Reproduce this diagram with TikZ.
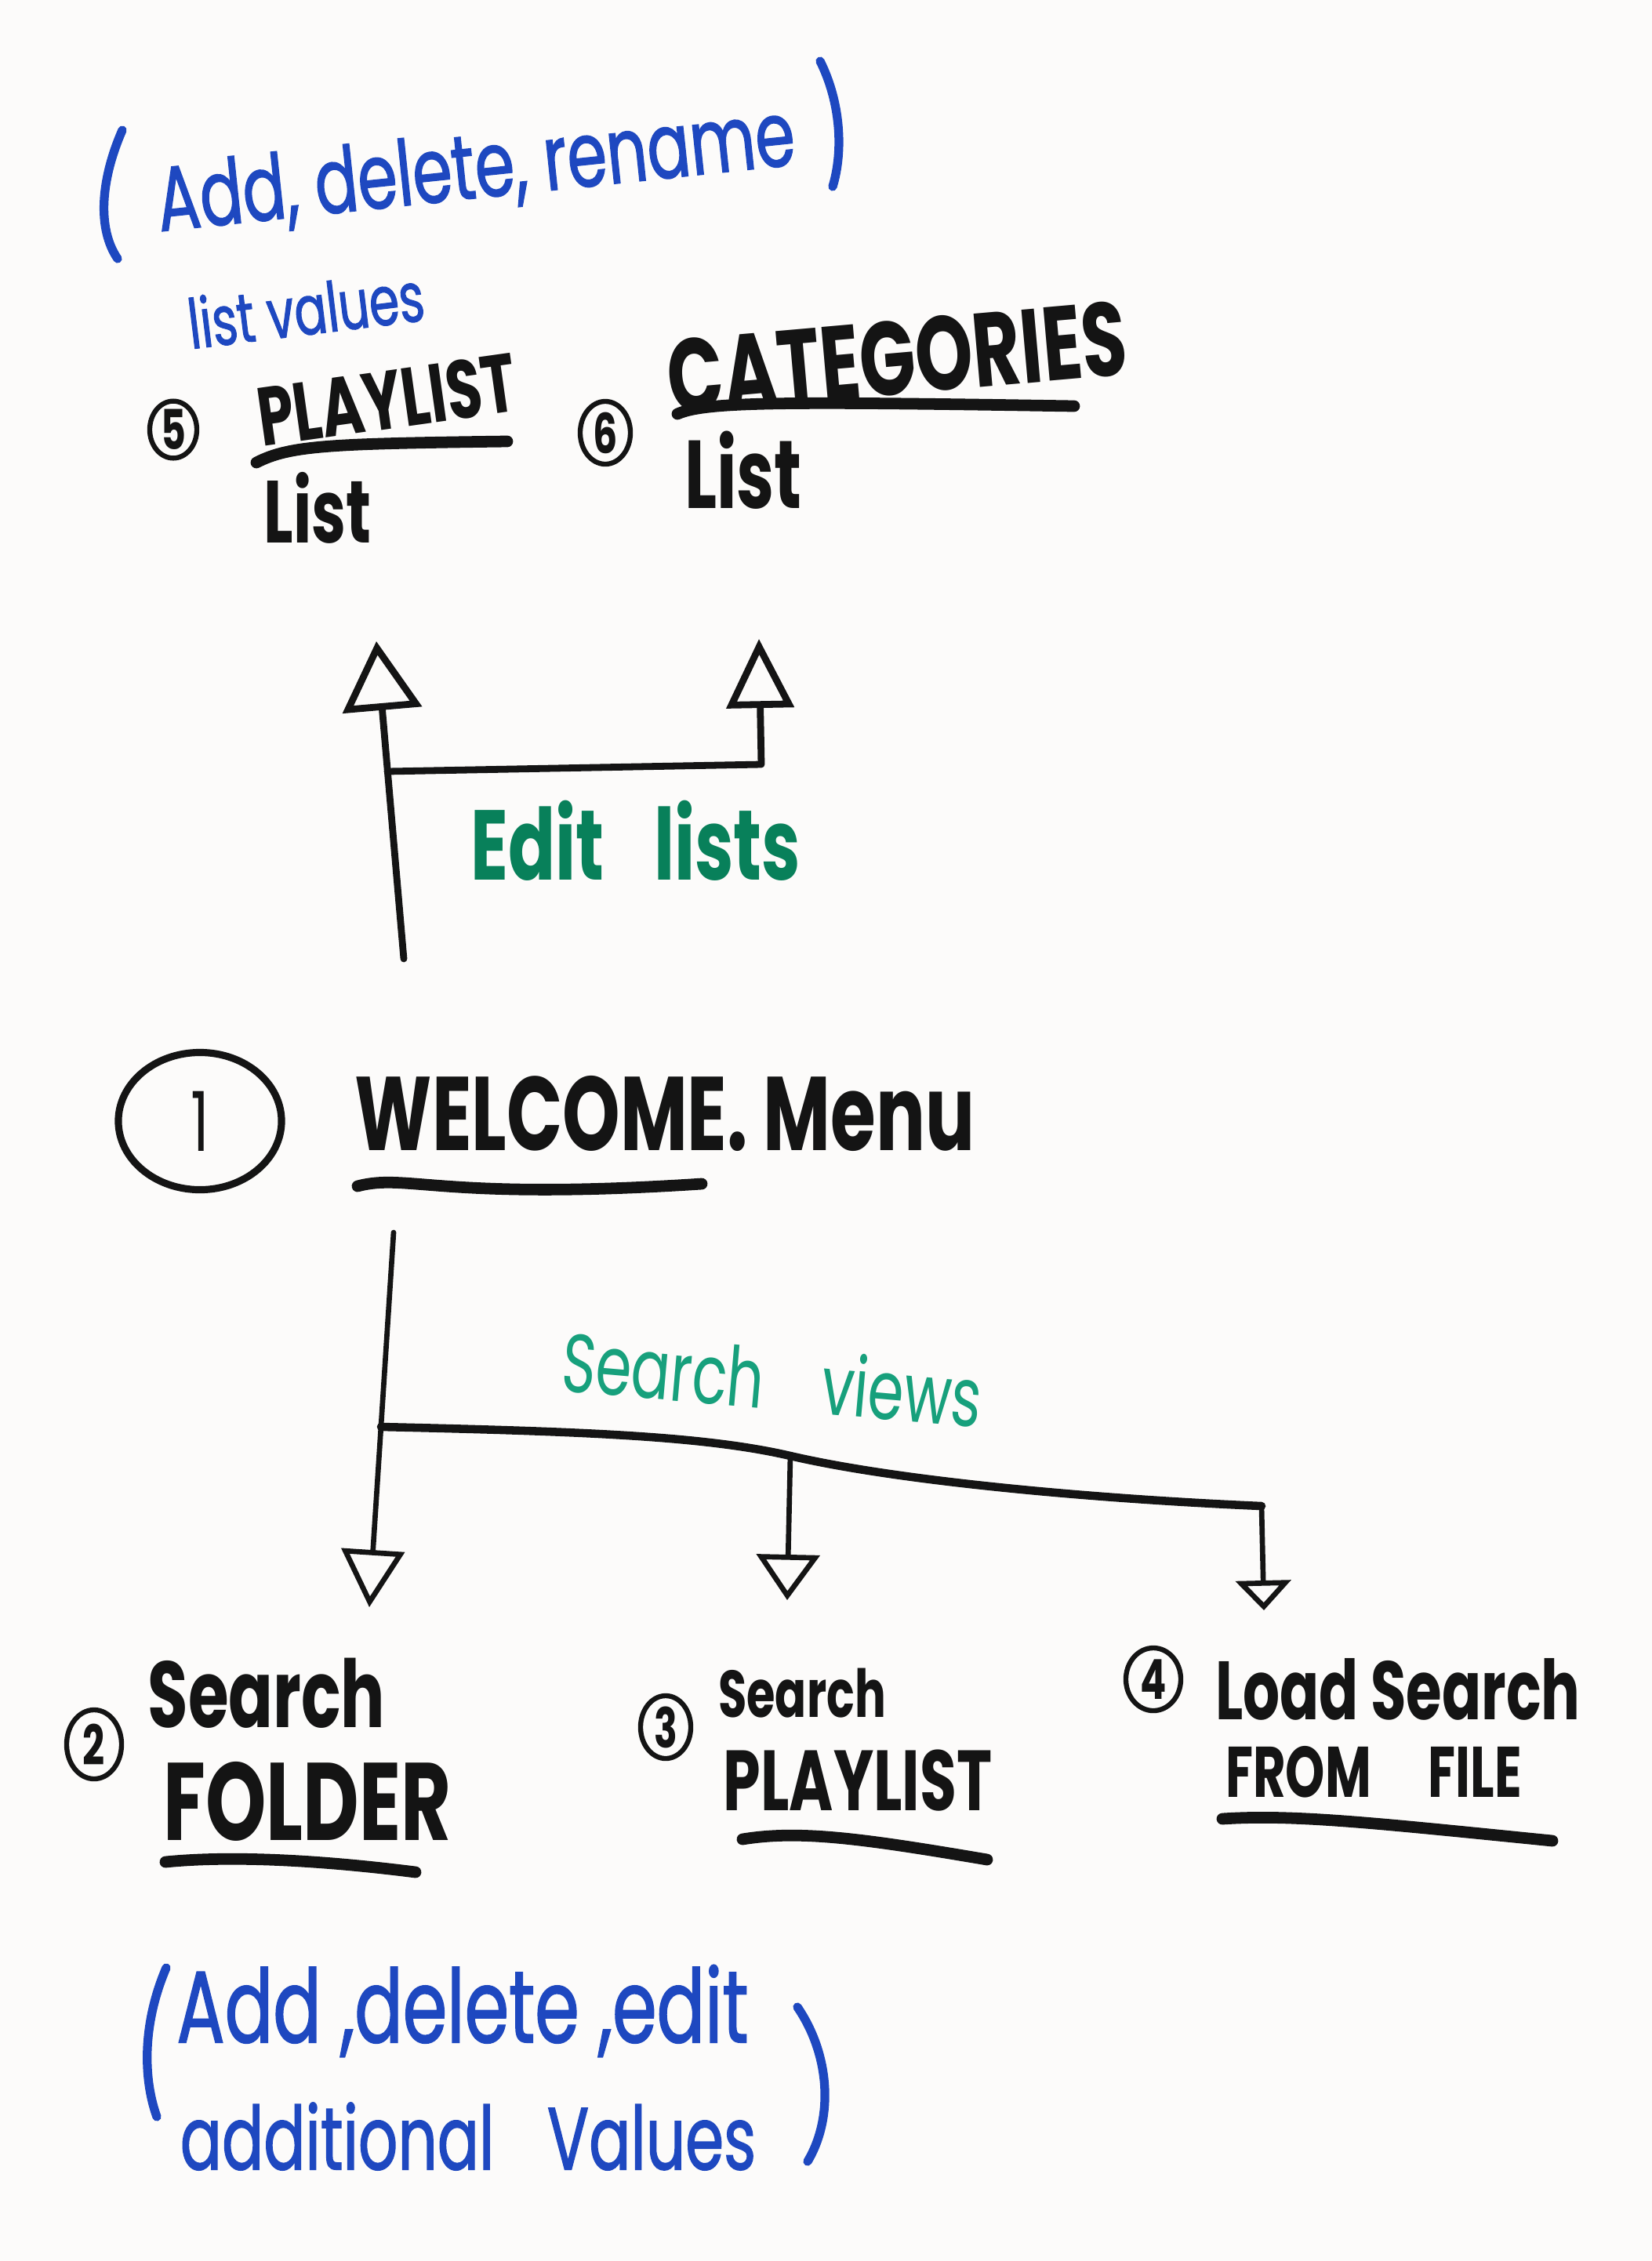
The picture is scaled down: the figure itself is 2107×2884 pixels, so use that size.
\documentclass[tikz,border=0pt]{standalone}
\usepackage{fontspec}
\setmainfont{Poppins}
\newfontfamily\hand[FakeStretch=0.7]{Poppins}
\newfontfamily\handink[FakeStretch=0.7, FakeBold=1.2]{Poppins}
\usetikzlibrary{arrows.meta,shapes.geometric}

\definecolor{ink}{HTML}{141414}
\definecolor{bluemark}{HTML}{1E48C0}
\definecolor{greenmark}{HTML}{08805A}
\definecolor{tealmark}{HTML}{17A07C}
\definecolor{board}{HTML}{FCFBFA}

\newcommand\fsz[1]{\fontsize{#1}{#1}\selectfont}

\begin{document}
\begin{tikzpicture}[x=0.01cm, y=-0.01cm,
  lbl/.style={inner sep=0pt, font=\hand\bfseries, text=ink},
  bluelbl/.style={inner sep=0pt, font=\handink, text=bluemark},
  numring/.style={draw=ink, ellipse, line width=1.8pt, inner sep=0pt,
                  font=\hand\bfseries\fsz{20}, text=ink},
  uline/.style={draw=ink, line width=4.2pt, line cap=round},
  paren/.style={draw=bluemark, line width=3.2pt, line cap=round},
  conn/.style={draw=ink, line width=2.5pt, line cap=round, line join=round},
  twig/.style={draw=ink, line width=1.9pt, line cap=round, line join=round},
  branch/.style={draw=ink, line width=3pt, line cap=round, line join=round},
]
% whiteboard
\fill[board] (0,0) rectangle (2107,2884);
\useasboundingbox (0,0) rectangle (2107,2884);

% ---- list editing notes (top) ----
\draw[paren] (156,166) .. controls (128,230) and (124,292) .. (150,330);
\draw[paren] (1046,78) .. controls (1072,130) and (1076,192) .. (1062,238);
\node[bluelbl, rotate=6] (addtop) at (607,218) {\fsz{33}Add, delete, rename};
\node[bluelbl, rotate=7] (listvals) at (390,394) {\fsz{25}list values};

% ---- playlist list ----
\node[numring, minimum width=0.6cm, minimum height=0.72cm] (n5) at (221,548) {5};
\node[lbl, rotate=8] (playlist) at (493,510) {\fsz{30}PLAYLIST};
\draw[uline] (327,590) .. controls (370,568) and (420,566) .. (647,563);
\node[lbl] (plist) at (405,648) {\fsz{32}List};

% ---- categories list ----
\node[numring, minimum width=0.64cm, minimum height=0.8cm] (n6) at (772,552) {6};
\node[lbl, rotate=5] (categories) at (1144,456) {\fsz{38}CATEGORIES};
\draw[uline] (864,528) .. controls (900,512) and (1000,512) .. (1370,518);
\node[lbl] (clist) at (948,600) {\fsz{35}List};

% ---- edit lists connectors ----
\coordinate (editbase) at (515,1223);
\coordinate (tipP) at (480,818);
\coordinate (ej) at (494,984);
\coordinate (ejR) at (971,975);
\coordinate (tipC) at (968,815);
\draw[conn, -{Triangle[open, length=0.88cm, width=1.0cm]}] (editbase) -- (tipP);
\draw[conn, -{Triangle[open, length=0.88cm, width=0.85cm]}] (ej) -- (ejR) -- (tipC);
\node[lbl, text=greenmark] (editlists) at (811,1072) {\fsz{36}Edit\hspace{0.5em}lists};

% ---- welcome menu ----
\node[numring, line width=2.6pt, minimum width=2.08cm, minimum height=1.75cm,
      font=\hand\fsz{30}] (n1) at (255,1430) {1};
\node[lbl] (welcome) at (848,1420) {\fsz{38}WELCOME. Menu};
\draw[uline] (456,1513) .. controls (520,1496) and (560,1532) .. (895,1510);

% ---- search views connectors ----
\coordinate (sv0) at (502,1572);
\coordinate (sj) at (486,1820);
\coordinate (mj) at (1008,1857);
\coordinate (cr) at (1609,1921);
\coordinate (tip2) at (471,2050);
\coordinate (tip3) at (1004,2041);
\coordinate (tip4) at (1612,2054);
\draw[twig, -{Triangle[open, length=0.73cm, width=0.8cm]}] (sv0) -- (tip2);
\draw[branch] (sj) .. controls (750,1826) and (900,1832) .. (mj)
              .. controls (1150,1890) and (1400,1912) .. (cr);
\draw[twig, -{Triangle[open, length=0.58cm, width=0.8cm]}] (mj) -- (tip3);
\draw[twig, -{Triangle[open, length=0.38cm, width=0.7cm]}] (cr) -- (tip4);
\node[inner sep=0pt, font=\hand, text=tealmark, rotate=-5] (searchviews)
      at (985,1758) {\fsz{30}Search\hspace{0.7em}views};

% ---- search folder ----
\node[numring, minimum width=0.7cm, minimum height=0.88cm] (n2) at (120,2225) {2};
\node[lbl] (sfolder1) at (340,2160) {\fsz{34}Search};
\node[lbl] (sfolder2) at (392,2298) {\fsz{40}FOLDER};
\draw[uline] (211,2375) .. controls (300,2366) and (420,2374) .. (530,2388);

% ---- search playlist ----
\node[numring, minimum width=0.64cm, minimum height=0.8cm] (n3) at (849,2203) {3};
\node[lbl] (splay1) at (1023,2160) {\fsz{24}Search};
\node[lbl] (splay2) at (1094,2271) {\fsz{31}PLAYLIST};
\draw[uline] (947,2346) .. controls (1020,2334) and (1100,2345) .. (1259,2372);

% ---- load search from file ----
\node[numring, minimum width=0.7cm, minimum height=0.8cm] (n4) at (1471,2142) {4};
\node[lbl] (lfile1) at (1783,2155) {\fsz{30}Load Search};
\node[lbl] (lfile2) at (1752,2260) {\fsz{26}FROM\hspace{0.8em}FILE};
\draw[uline] (1559,2320) .. controls (1650,2314) and (1750,2325) .. (1980,2348);

% ---- value editing notes (bottom) ----
\draw[paren] (212,2510) .. controls (182,2580) and (182,2650) .. (200,2700);
\draw[paren] (1017,2560) .. controls (1058,2620) and (1064,2700) .. (1030,2757);
\node[bluelbl] (addbot) at (590,2565) {\fsz{37}Add ,delete ,edit};
\node[bluelbl] (addvals) at (597,2725) {\fsz{32}additional\hspace{0.6em}Values};
\end{tikzpicture}
\end{document}
